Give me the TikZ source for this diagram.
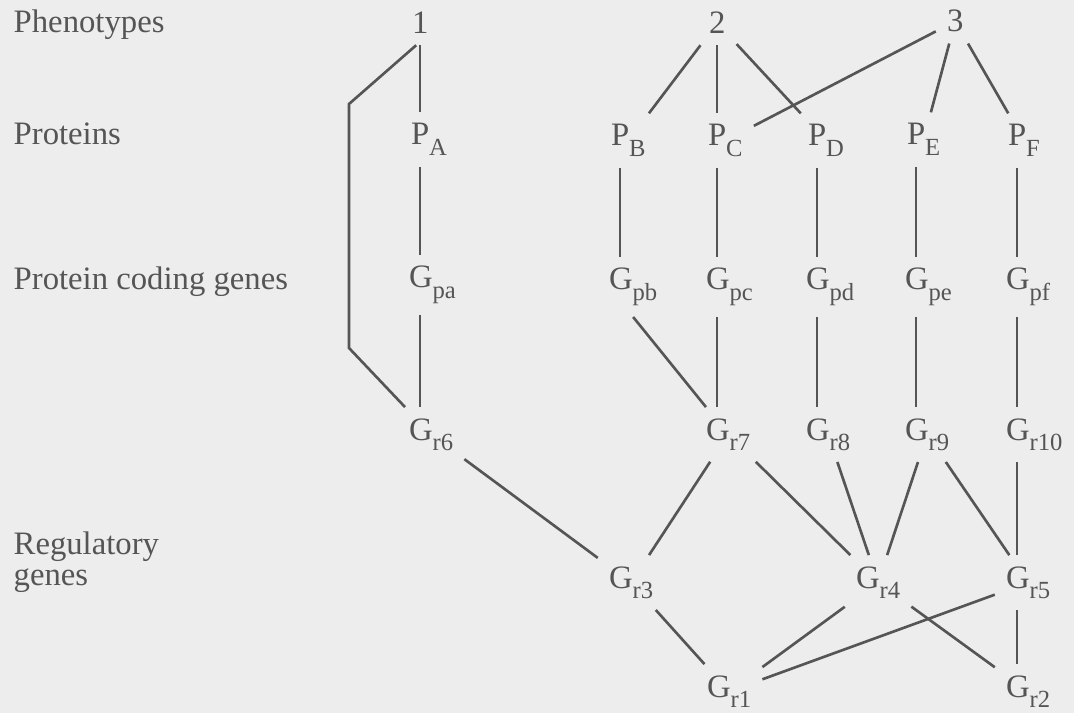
\documentclass[tikz,border=0pt]{standalone}
\usepackage{fontspec}
\setmainfont{Liberation Serif}
\newfontfamily\figfont{Liberation Serif}
\definecolor{paper}{HTML}{EDEDED}
\definecolor{ink}{HTML}{555555}
\newcommand{\sbs}[1]{\raisebox{-0.7ex}{\fontsize{7}{8}\selectfont #1}}

\begin{document}
\begin{tikzpicture}[x=0.01cm,y=-0.01cm,
  every node/.style={text=ink,font=\figfont\fontsize{9.3}{11}\selectfont},
  tag/.style={anchor=text,inner sep=3pt},
  level/.style={anchor=base west,inner sep=0pt},
  link/.style={ink,line width=0.75pt}]
  \fill[paper] (0,0) rectangle (1074,713);
  \useasboundingbox (0,0) rectangle (1074,713);

  % row labels
  \node[level] (lphen) at (13,33) {Phenotypes};
  \node[level] (lprot) at (13,145) {Proteins};
  \node[level] (lcode) at (13,290) {Protein coding genes};
  \node[level] (lreg) at (13,554) {Regulatory};
  \node[level] (lgen) at (13,585) {genes};

  % columns of the vertical links
  \coordinate (cA) at (420,0);
  \coordinate (cB) at (620,0);
  \coordinate (cC) at (717,0);
  \coordinate (cD) at (817,0);
  \coordinate (cE) at (916,0);
  \coordinate (cF) at (1017,0);

  % phenotypes
  \node[tag] (one) at (412,34) {1};
  \node[tag] (two) at (709,34) {2};
  \node[tag] (three) at (947,32) {3};

  % proteins
  \node[tag] (PA) at (411,145) {P\sbs{A}};
  \node[tag] (PB) at (611,146) {P\sbs{B}};
  \node[tag] (PC) at (708,146) {P\sbs{C}};
  \node[tag] (PD) at (808,146) {P\sbs{D}};
  \node[tag] (PE) at (907,145) {P\sbs{E}};
  \node[tag] (PF) at (1008,146) {P\sbs{F}};

  % protein coding genes
  \node[tag] (Gpa) at (409,288) {G\sbs{pa}};
  \node[tag] (Gpb) at (609,290) {G\sbs{pb}};
  \node[tag] (Gpc) at (706,290) {G\sbs{pc}};
  \node[tag] (Gpd) at (806,290) {G\sbs{pd}};
  \node[tag] (Gpe) at (905,290) {G\sbs{pe}};
  \node[tag] (Gpf) at (1006,290) {G\sbs{pf}};

  % regulatory genes
  \node[tag] (Gr6) at (409,440) {G\sbs{r6}};
  \node[tag] (Gr7) at (706,440) {G\sbs{r7}};
  \node[tag] (Gr8) at (806,440) {G\sbs{r8}};
  \node[tag] (Gr9) at (905,440) {G\sbs{r9}};
  \node[tag] (Gr10) at (1006,440) {G\sbs{r10}};
  \node[tag] (Gr3) at (609,588) {G\sbs{r3}};
  \node[tag] (Gr4) at (856,588) {G\sbs{r4}};
  \node[tag] (Gr5) at (1006,588) {G\sbs{r5}};
  \node[tag] (Gr1) at (707,697) {G\sbs{r1}};
  \node[tag] (Gr2) at (1006,697) {G\sbs{r2}};

  % phenotypes to proteins
  \draw[link] (one.south -| cA) -- (PA.north -| cA);
  \coordinate (bendT) at (349,104);
  \coordinate (bendB) at (349,348);
  \draw[link] ([xshift=-0.04cm]one.south) -- (bendT) -- (bendB) -- (Gr6);
  \draw[link] (two) -- (PB);
  \draw[link] (two.south -| cC) -- (PC.north -| cC);
  \draw[link] (two) -- (PD);
  \draw[link] (three) -- (PC);
  \draw[link] (three) -- (PE);
  \draw[link] (three) -- (PF);

  % proteins to coding genes
  \draw[link] (PA.south -| cA) -- (Gpa.north -| cA);
  \draw[link] (PB.south -| cB) -- (Gpb.north -| cB);
  \draw[link] (PC.south -| cC) -- (Gpc.north -| cC);
  \draw[link] (PD.south -| cD) -- (Gpd.north -| cD);
  \draw[link] (PE.south -| cE) -- (Gpe.north -| cE);
  \draw[link] (PF.south -| cF) -- (Gpf.north -| cF);

  % coding genes to regulatory genes
  \draw[link] (Gpa.south -| cA) -- (Gr6.north -| cA);
  \draw[link] (Gpb.south) -- (Gr7);
  \draw[link] (Gpc.south -| cC) -- (Gr7.north -| cC);
  \draw[link] (Gpd.south -| cD) -- (Gr8.north -| cD);
  \draw[link] (Gpe.south -| cE) -- (Gr9.north -| cE);
  \draw[link] (Gpf.south -| cF) -- (Gr10.north -| cF);

  % regulatory network
  \draw[link] (Gr6) -- (Gr3);
  \draw[link] (Gr7) -- (Gr3);
  \draw[link] (Gr7) -- (Gr4);
  \draw[link] (Gr8) -- (Gr4);
  \draw[link] (Gr9) -- (Gr4);
  \draw[link] (Gr9) -- (Gr5);
  \draw[link] (Gr10.south -| cF) -- (Gr5.north -| cF);
  \draw[link] (Gr3) -- (Gr1);
  \draw[link] (Gr1) -- (Gr4);
  \draw[link] (Gr1) -- (Gr5);
  \draw[link] (Gr4) -- (Gr2);
  \draw[link] (Gr5.south -| cF) -- (Gr2.north -| cF);
\end{tikzpicture}
\end{document}
